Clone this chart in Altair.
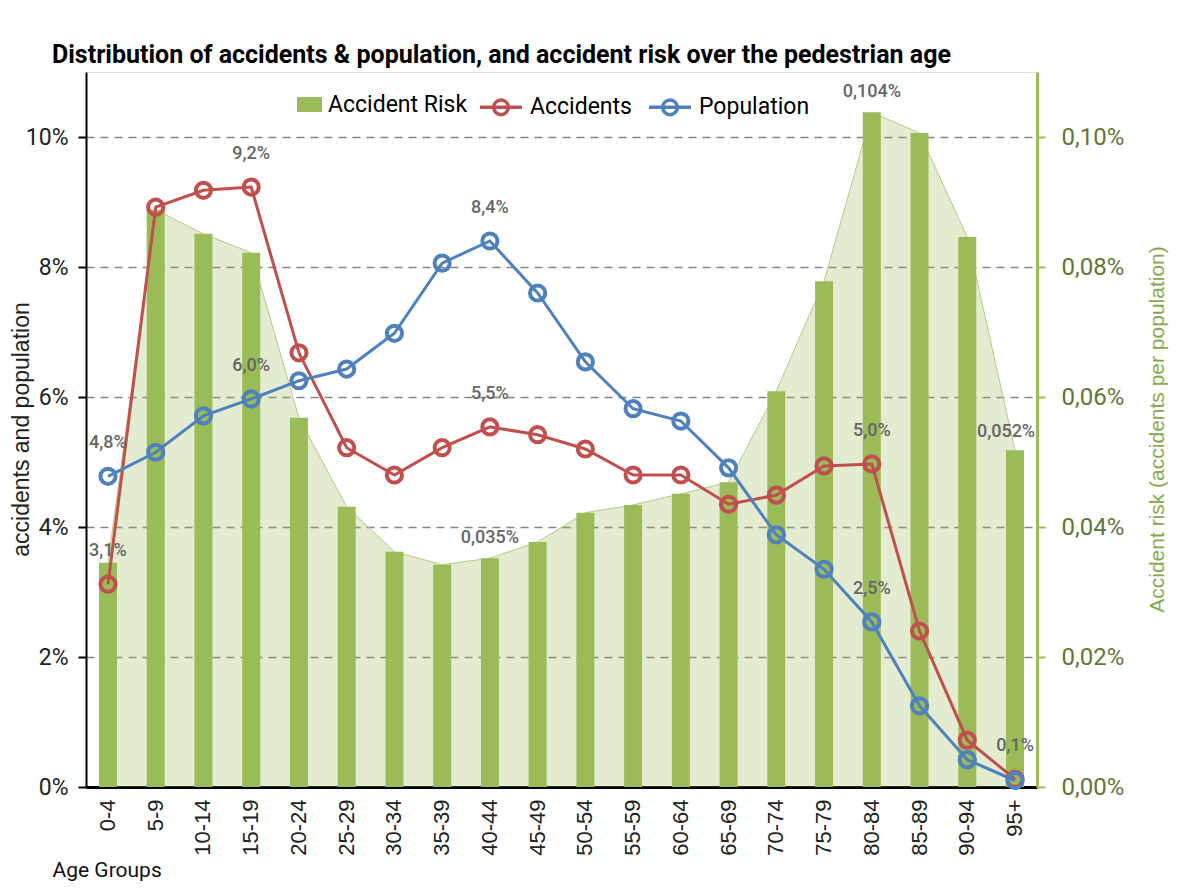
import altair as alt
import pandas as pd

ages = ["0-4", "5-9", "10-14", "15-19", "20-24", "25-29", "30-34", "35-39", "40-44", "45-49",
        "50-54", "55-59", "60-64", "65-69", "70-74", "75-79", "80-84", "85-89", "90-94", "95+"]
risk = [0.000345, 0.000888, 0.000851, 0.000822, 0.000568, 0.000431, 0.000362, 0.000342, 0.000352, 0.000377,
        0.000422, 0.000434, 0.000451, 0.000469, 0.000609, 0.000778, 0.001038, 0.001006, 0.000846, 0.000518]
accidents = [0.0312, 0.0892, 0.0918, 0.0923, 0.0668, 0.0522, 0.0480, 0.0522, 0.0554, 0.0542,
             0.0520, 0.0480, 0.0480, 0.0435, 0.0449, 0.0494, 0.0497, 0.0240, 0.0072, 0.0012]
population = [0.0478, 0.0515, 0.0571, 0.0597, 0.0625, 0.0643, 0.0698, 0.0806, 0.0840, 0.0760,
              0.0654, 0.0582, 0.0563, 0.0491, 0.0388, 0.0335, 0.0254, 0.0125, 0.0042, 0.0010]

acc_label_ages = ["0-4", "15-19", "40-44", "80-84", "95+"]
pop_label_ages = ["0-4", "15-19", "40-44", "80-84"]
risk_label_ages = ["40-44", "80-84"]
risk_label_ages_edge = ["95+"]

left_ticks = [0, 0.02, 0.04, 0.06, 0.08, 0.10]
right_ticks = [0, 0.0002, 0.0004, 0.0006, 0.0008, 0.0010]

GREEN = "#9bbb59"
RED = "#c0504d"
BLUE = "#4f81bd"
UI = "Roboto"
SANS = "Liberation Sans"
LABEL_GRAY = "#666666"

risk_df = pd.DataFrame({"age": ages, "risk": risk, "series": "Accident Risk"})
lines_df = pd.concat([
    pd.DataFrame({"age": ages, "value": accidents, "series": "Accidents"}),
    pd.DataFrame({"age": ages, "value": population, "series": "Population"}),
])

x_enc = alt.X(
    "age:N", sort=ages,
    scale=alt.Scale(paddingInner=0.623, paddingOuter=0.272),
    axis=alt.Axis(
        title="Age Groups", titleFont=UI, titleFontSize=21, titleFontWeight="normal",
        titleColor="#111111", titleAnchor="start", titleAlign="left", titleX=-34, titleY=89,
        titleBaseline="alphabetic",
        labelAngle=270, labelAlign="right", labelBaseline="middle", labelPadding=12,
        labelFont=SANS, labelFontSize=22, labelColor="#222222",
        ticks=False, domainColor="black", domainWidth=3,
    ),
)

y_right = alt.Y(
    "risk:Q",
    scale=alt.Scale(domain=[0, 0.0011], nice=False),
    axis=alt.Axis(
        orient="right", values=right_ticks, grid=False,
        labelExpr="replace(format(datum.value, '.2%'), '.', ',')",
        labelFont=UI, labelFontSize=24, labelColor="#627536", labelPadding=16,
        domainColor=GREEN, domainWidth=3, tickColor=GREEN, tickWidth=2, tickSize=8,
        title="Accident risk (accidents per population)", titleFont=SANS, titleFontSize=21,
        titleFontWeight="normal", titleColor="#86a94c", titleAngle=270,
        titleX=120, titleY=357, titleAlign="center", titleBaseline="middle",
    ),
)

fill_legend = alt.Legend(
    title=None, orient="none", legendX=211, legendY=20, direction="horizontal",
    symbolType="M-1,-0.6H1V0.6H-1Z", symbolSize=625, symbolStrokeWidth=0,
    labelFont=UI, labelFontSize=23, labelColor="black", labelOffset=6, padding=0,
)

area = alt.Chart(risk_df).mark_area(
    color=GREEN, fillOpacity=0.28,
    line=alt.OverlayMarkDef(color="#b3cb86", strokeWidth=1),
).encode(x=x_enc, y=y_right)

bars = alt.Chart(risk_df).mark_bar(color=GREEN).encode(
    x=x_enc, y=y_right,
    fill=alt.Fill("series:N", scale=alt.Scale(domain=["Accident Risk"], range=[GREEN]), legend=fill_legend),
)

risk_text_expr = "replace(format(datum.risk, '.3%'), '.', ',')"
risk_labels = alt.Chart(risk_df).transform_filter(
    alt.FieldOneOfPredicate(field="age", oneOf=risk_label_ages)
).transform_calculate(lbl=risk_text_expr).mark_text(
    font=UI, fontSize=18, fontWeight=500, color=LABEL_GRAY, dy=-20
).encode(x=x_enc, y=y_right, text="lbl:N")

risk_labels_edge = alt.Chart(risk_df).transform_filter(
    alt.FieldOneOfPredicate(field="age", oneOf=risk_label_ages_edge)
).transform_calculate(lbl=risk_text_expr).mark_text(
    font=UI, fontSize=18, fontWeight=500, color=LABEL_GRAY, dy=-18, dx=-9
).encode(x=x_enc, y=y_right, text="lbl:N")

risk_layer = alt.layer(area, bars, risk_labels, risk_labels_edge)

y_left = alt.Y(
    "value:Q",
    scale=alt.Scale(domain=[0, 0.11], nice=False),
    axis=alt.Axis(
        orient="left", values=left_ticks, format=".0%",
        labelFont=UI, labelFontSize=23, labelColor="#222222", labelPadding=10,
        domainColor="black", domainWidth=2, tickColor="black", tickWidth=2, tickSize=8,
        grid=True, gridColor="#8c8282", gridDash=[8, 6], gridWidth=1.5,
        title="accidents and population", titleFont=SANS, titleFontSize=23,
        titleFontWeight="normal", titleColor="#222222", titleAngle=270,
        titleX=-65, titleY=357, titleAlign="center", titleBaseline="middle",
    ),
)

stroke_legend = alt.Legend(
    title=None, orient="none", legendX=392, legendY=12, direction="horizontal",
    symbolType="M-1,0H1M-0.35,0A0.35,0.35 0 1,1 0.35,0A0.35,0.35 0 1,1 -0.35,0",
    symbolSize=1764, symbolStrokeWidth=3.5, symbolFillColor="transparent",
    labelFont=UI, labelFontSize=23, labelColor="black", labelOffset=6,
    columnPadding=10, padding=0,
)
stroke_enc = alt.Stroke(
    "series:N",
    scale=alt.Scale(domain=["Accidents", "Population"], range=[RED, BLUE]),
    legend=stroke_legend,
)

lines = alt.Chart(lines_df).mark_line(strokeWidth=3).encode(
    x=x_enc, y=y_left, stroke=stroke_enc, detail="series:N"
)
points = alt.Chart(lines_df).mark_point(filled=False, size=230, strokeWidth=4, opacity=1).encode(
    x=x_enc, y=y_left, stroke=stroke_enc
)

line_text_expr = "replace(format(datum.value, '.1%'), '.', ',')"
acc_labels = alt.Chart(lines_df).transform_filter(
    (alt.datum.series == "Accidents")
).transform_filter(
    alt.FieldOneOfPredicate(field="age", oneOf=acc_label_ages)
).transform_calculate(lbl=line_text_expr).mark_text(
    font=UI, fontSize=18, fontWeight=500, color=LABEL_GRAY, dy=-33
).encode(x=x_enc, y=y_left, text="lbl:N")

pop_labels = alt.Chart(lines_df).transform_filter(
    (alt.datum.series == "Population")
).transform_filter(
    alt.FieldOneOfPredicate(field="age", oneOf=pop_label_ages)
).transform_calculate(lbl=line_text_expr).mark_text(
    font=UI, fontSize=18, fontWeight=500, color=LABEL_GRAY, dy=-33
).encode(x=x_enc, y=y_left, text="lbl:N")

lines_layer = alt.layer(lines, points, acc_labels, pop_labels)

chart = alt.layer(risk_layer, lines_layer).resolve_scale(
    y="independent", fill="independent", stroke="independent"
).properties(
    width=951, height=715,
    autosize=alt.AutoSizeParams(type="none"),
    padding={"left": 78, "top": 64, "right": 141, "bottom": 98},
    title=alt.TitleParams(
        "Distribution of accidents & population, and accident risk over the pedestrian age",
        font=UI, fontSize=25, fontWeight="bold", color="black",
        anchor="start", dx=-34, offset=4, frame="group",
    ),
).configure_view(stroke=None).configure(background="white")

chart.save("out.html", embed_options={"renderer": "svg", "actions": False})
